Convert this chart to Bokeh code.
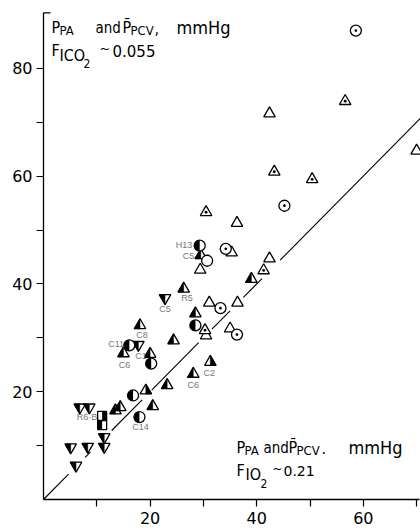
import math
from bokeh.plotting import figure
from bokeh.models import Range1d, LinearAxis, FixedTicker, Label, ColumnDataSource
from bokeh.core.properties import value
from bokeh.embed import file_html
from bokeh.resources import INLINE

# ---------------- data ----------------
open_tri_x = [42.4, 70.0, 36.3, 42.4, 35.3, 29.4, 31.1, 36.4, 30.5, 35.0]
open_tri_y = [71.6, 64.7, 51.3, 44.7, 45.8, 42.6, 36.5, 36.5, 30.4, 31.7]
dot_tri_x = [56.6, 43.3, 50.4, 30.5, 41.3, 30.3]
dot_tri_y = [73.9, 60.8, 59.4, 53.3, 42.5, 31.4]
dot_circ_x = [58.6, 45.2, 34.2, 33.2, 36.3]
dot_circ_y = [87.0, 54.5, 46.5, 35.5, 30.6]
open_circ_x = [30.7]
open_circ_y = [44.3]
half_tri_x = [39.0, 29.5, 26.3, 28.5, 24.4, 28.1, 18.1, 15.0, 20.0, 23.2, 20.5, 13.5, 14.4]
half_tri_y = [40.9, 45.3, 39.1, 34.5, 29.5, 23.3, 32.3, 27.1, 27.0, 21.2, 17.3, 16.5, 17.1]
halfr_tri_x = [31.3, 19.2]
halfr_tri_y = [25.5, 20.2]
half_circ_x = [29.3, 28.5, 16.1, 20.2, 16.8, 18.0]
half_circ_y = [47.1, 32.3, 28.6, 25.2, 19.3, 15.3]
half_inv_x = [22.8, 17.8, 6.8, 8.6, 11.4, 11.4, 8.3, 5.1, 6.1]
half_inv_y = [37.4, 28.7, 17.1, 17.1, 11.6, 9.8, 9.8, 9.7, 6.3]
sq_x = [11.0, 11.0]
sq_y = [15.5, 13.8]

pt_labels = ["H13", "C5", "R5", "C5", "C8", "C11", "C6", "C1", "C6", "C2", "C14", "R6\u00b7B"]
pt_label_x = [27.9, 28.3, 26.9, 22.8, 18.5, 15.1, 15.2, 18.3, 28.1, 31.1, 18.2, 10.1]
pt_label_y = [47.3, 45.1, 37.3, 35.3, 30.6, 28.9, 24.9, 26.7, 21.2, 23.4, 13.4, 15.3]
pt_label_align = ["right", "right", "center", "center", "center", "right", "center",
                  "center", "center", "center", "center", "right"]

x_ticks = [10, 20, 30, 40, 50, 60, 70]
y_ticks = [10, 20, 30, 40, 50, 60, 70, 80]
x_tick_labels = {10: "", 20: "20", 30: "", 40: "40", 50: "", 60: "60", 70: ""}
y_tick_labels = {10: "", 20: "20", 30: "", 40: "40", 50: "", 60: "60", 70: "", 80: "80"}

# identity line pieces (broken where symbols sit)
ident_pieces = [(0, 4.7), (7.8, 8.8), (12.8, 18.5), (20.3, 29.1), (31.6, 35.0), (37.5, 41.0), (44.4, 70.7)]

# ---------------- layout ----------------
W, H = 420, 530
ML, MB = 43, 31
X_MAX, Y_MAX = 70.73, 92.58
X_AX_END, Y_AX_END = 70.6, 90.3
PX_X = (W - ML) / X_MAX
PX_Y = (H - MB) / Y_MAX
FONT = "DejaVu Sans"
NARROW = "Liberation Sans Narrow, DejaVu Sans Condensed, Liberation Sans"

p = figure(width=W, height=H, x_range=Range1d(0, X_MAX), y_range=Range1d(0, Y_MAX),
           output_backend="svg", toolbar_location=None,
           x_axis_location=None, y_axis_location=None,
           min_border_left=ML, min_border_bottom=MB, min_border_top=0, min_border_right=0)
p.outline_line_color = None
p.background_fill_color = "white"
p.border_fill_color = "white"
for g in p.grid:
    g.visible = False


def style_axis(ax):
    ax.axis_line_color = "black"
    ax.axis_line_width = 1.3
    ax.major_tick_line_color = "black"
    ax.major_tick_line_width = 1.2
    ax.major_tick_out = 7
    ax.major_tick_in = 0
    ax.minor_tick_line_color = None
    ax.major_label_text_font = FONT
    ax.major_label_text_font_size = "16px"
    ax.major_label_text_color = "black"


xax = LinearAxis(ticker=FixedTicker(ticks=x_ticks, minor_ticks=[]), bounds=(0, X_AX_END),
                 major_label_overrides=x_tick_labels)
style_axis(xax)
xax.major_label_standoff = 5
yax = LinearAxis(ticker=FixedTicker(ticks=y_ticks, minor_ticks=[]), bounds=(0, Y_AX_END),
                 major_label_overrides=y_tick_labels)
style_axis(yax)
yax.major_label_standoff = 4
p.add_layout(xax, "below")
p.add_layout(yax, "left")

# top cap of y axis
p.segment(x0=[0], y0=[Y_AX_END], x1=[7 / PX_X], y1=[Y_AX_END], line_color="black", line_width=1.2)

# identity line
p.multi_line(xs=[[a, b] for a, b in ident_pieces], ys=[[a, b] for a, b in ident_pieces],
             line_color="black", line_width=1.1)

LW = 1.3
TRI = 11.5
R = TRI / 2
dx = R / PX_X
hh = R * math.sqrt(3) / PX_Y


def half_tri_patches(xs, ys, side, inverted=False):
    px, py = [], []
    for x, y in zip(xs, ys):
        if not inverted:
            base = y - hh / 3
            apex = y + 2 * hh / 3
        else:
            base = y + hh / 3
            apex = y - 2 * hh / 3
        ex = x - dx if side == "left" else x + dx
        px.append([ex, x, x])
        py.append([base, base, apex])
    return px, py


# half filled triangles (left black)
hx, hy = half_tri_patches(half_tri_x, half_tri_y, "left")
p.scatter(half_tri_x, half_tri_y, marker="triangle", size=TRI, fill_color="white", line_color=None)
p.patches(hx, hy, fill_color="black", line_color="black", line_width=0.5)
p.scatter(half_tri_x, half_tri_y, marker="triangle", size=TRI, fill_alpha=0, line_color="black", line_width=LW)
# half filled triangles (right black)
hx, hy = half_tri_patches(halfr_tri_x, halfr_tri_y, "right")
p.scatter(halfr_tri_x, halfr_tri_y, marker="triangle", size=TRI, fill_color="white", line_color=None)
p.patches(hx, hy, fill_color="black", line_color="black", line_width=0.5)
p.scatter(halfr_tri_x, halfr_tri_y, marker="triangle", size=TRI, fill_alpha=0, line_color="black", line_width=LW)
# half filled inverted triangles
hx, hy = half_tri_patches(half_inv_x, half_inv_y, "left", inverted=True)
p.scatter(half_inv_x, half_inv_y, marker="inverted_triangle", size=TRI, fill_color="white", line_color=None)
p.patches(hx, hy, fill_color="black", line_color="black", line_width=0.5)
p.scatter(half_inv_x, half_inv_y, marker="inverted_triangle", size=TRI, fill_alpha=0, line_color="black", line_width=LW)

# half filled circles
CR = 5.5
p.scatter(half_circ_x, half_circ_y, marker="circle", size=2 * CR, fill_color="white", line_color=None)
p.wedge(half_circ_x, half_circ_y, radius=CR, radius_units="screen",
        start_angle=math.pi / 2, end_angle=3 * math.pi / 2, fill_color="black", line_color=None)
p.scatter(half_circ_x, half_circ_y, marker="circle", size=2 * CR, fill_alpha=0, line_color="black", line_width=LW)

# squares (checkered halves)
SQ = 9
p.scatter(sq_x, sq_y, marker="square", size=SQ, fill_color="white", line_color=None)
p.rect([sq_x[0] + SQ / 4 / PX_X], [sq_y[0]], width=SQ / 2, height=SQ,
       width_units="screen", height_units="screen", fill_color="black", line_color=None)
p.rect([sq_x[1] - SQ / 4 / PX_X], [sq_y[1]], width=SQ / 2, height=SQ,
       width_units="screen", height_units="screen", fill_color="black", line_color=None)
p.scatter(sq_x, sq_y, marker="square", size=SQ, fill_alpha=0, line_color="black", line_width=LW)

# open triangles, dotted triangles, dotted circles, open circles
p.scatter(open_tri_x, open_tri_y, marker="triangle", size=TRI, fill_color="white", line_color="black", line_width=LW)
p.scatter(dot_tri_x, dot_tri_y, marker="triangle_dot", size=TRI, fill_color="white", line_color="black", line_width=LW)
p.scatter(dot_circ_x, dot_circ_y, marker="circle_dot", size=2 * CR, fill_color="white", line_color="black", line_width=LW)
p.scatter(open_circ_x, open_circ_y, marker="circle", size=2 * CR, fill_color="white", line_color="black", line_width=LW)

# point labels
src = ColumnDataSource(dict(x=pt_label_x, y=pt_label_y, t=pt_labels, a=pt_label_align))
p.text(x="x", y="y", text="t", text_align="a", text_baseline="middle", source=src,
       text_font=value("Liberation Sans"), text_font_size="9px", text_color="#777777")


# annotation texts placed by pixel position
def lab(px, py, txt, size, font=NARROW):
    p.add_layout(Label(x=(px - ML) / PX_X, y=(H - MB - py) / PX_Y, text=txt,
                       text_font=font, text_font_size=f"{size}px", text_color="black",
                       text_baseline="alphabetic", text_align="left"))


# top-left
lab(51, 27, "P", 16)
lab(59, 30, "PA", 13)
lab(95, 27, "and", 15)
lab(122, 27, "P\u0304", 16)
lab(130, 30, "PCV", 13)
lab(154, 27, ",", 16)
lab(176, 27, "mmHg", 18)
lab(51, 50, "F", 16)
lab(59, 55, "ICO", 16)
lab(83, 63, "2", 12)
lab(99, 48, "~", 13, FONT)
lab(112, 50, "0.055", 15, FONT)

# bottom-right
lab(236, 447, "P", 16)
lab(244, 450, "PA", 13)
lab(263, 447, "and", 15)
lab(288, 447, "P\u0304", 16)
lab(296, 450, "PCV", 13)
lab(321, 447, ".", 16)
lab(348, 447, "mmHg", 18)
lab(236, 470, "F", 16)
lab(245, 474, "IO", 16)
lab(260, 483, "2", 12)
lab(272, 468, "~", 12, FONT)
lab(283, 470, "0.21", 14, FONT)

open("out.html", "w").write(file_html(p, INLINE))
